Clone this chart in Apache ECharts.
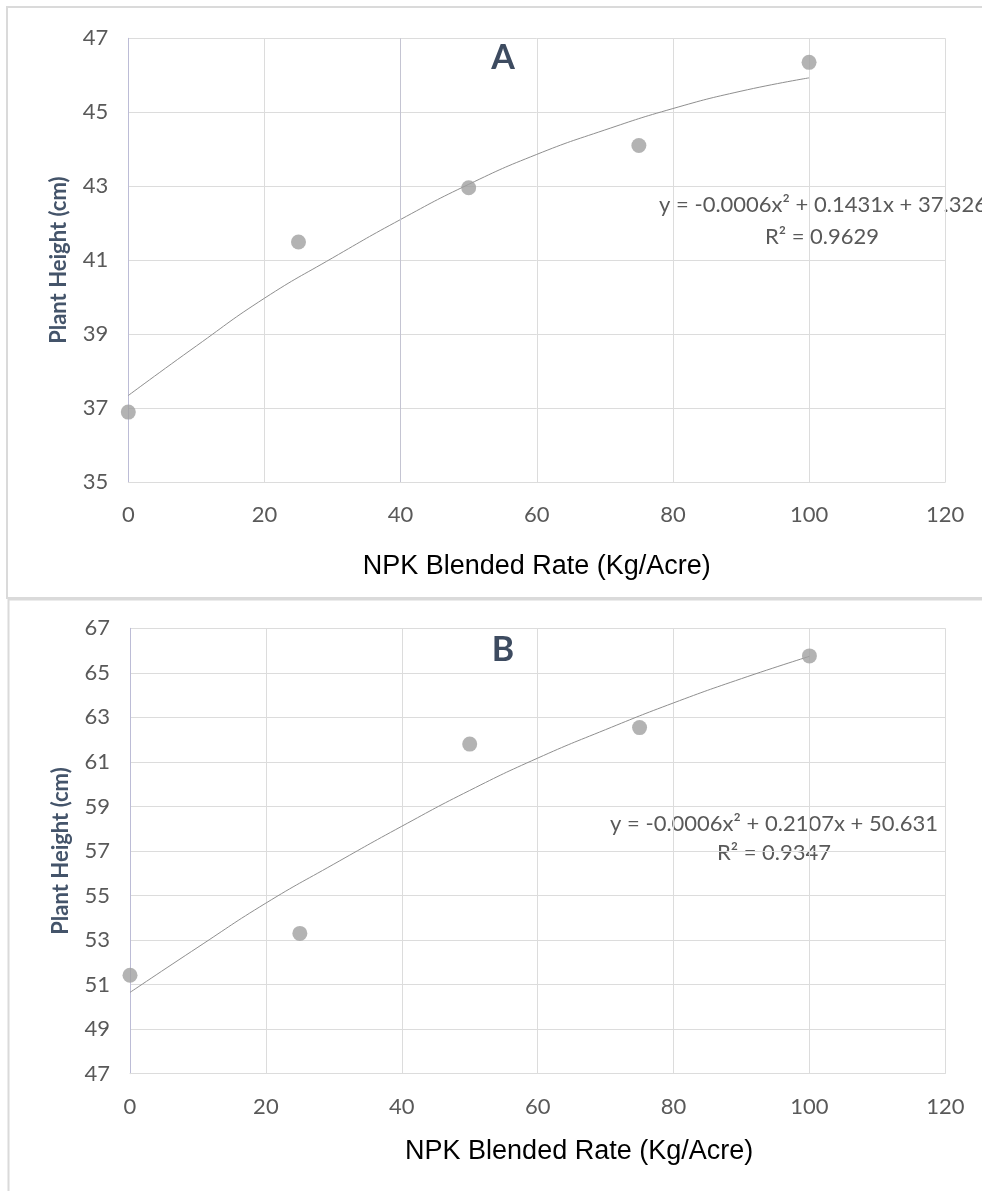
<!DOCTYPE html>
<html>
<head>
<meta charset="utf-8">
<script src="https://cdn.jsdelivr.net/npm/echarts@6/dist/echarts.min.js"></script>
<style>
  html, body { margin: 0; padding: 0; background: #ffffff; }
  #chart { width: 982px; height: 1191px; }
</style>
</head>
<body>
<div id="chart"></div>
<script>
// ---- data ----
const rates = [0, 25, 50, 75, 100];
const heightA = [36.89, 41.49, 42.96, 44.10, 46.35];
const heightB = [51.42, 53.30, 61.80, 62.54, 65.76];

// trend lines as drawn in the picture (read at every 10 kg/acre)
const trendX = [0, 10, 20, 30, 40, 50, 60, 70, 80, 90, 100];
const trendA = [37.34, 38.68, 39.97, 41.06, 42.10, 43.05, 43.86, 44.52, 45.10, 45.57, 45.93];
const trendB = [50.65, 52.68, 54.66, 56.41, 58.11, 59.72, 61.17, 62.45, 63.65, 64.74, 65.74];

const xTicks = [0, 20, 40, 60, 80, 100, 120];
const yTicksA = [35, 37, 39, 41, 43, 45, 47];
const yTicksB = [47, 49, 51, 53, 55, 57, 59, 61, 63, 65, 67];

const panelTitles = ['A', 'B'];
const eqA = ['y = -0.0006x\u00B2 + 0.1431x + 37.326', 'R\u00B2 = 0.9629'];
const eqB = ['y = -0.0006x\u00B2 + 0.2107x + 50.631', 'R\u00B2 = 0.9347'];
const xName = 'NPK Blended Rate (Kg/Acre)';
const yName = 'Plant Height (cm)';

// ---- styling ----
const tickColor = '#595959';
const gridColor = '#dcdcdc';
const axisBlue = '#bcbcd6';
const dotColor = '#a0a0a0';
const lineColor = '#8f8f8f';
const titleColor = '#3d4b60';

function pairs(xs, ys) { return xs.map((x, i) => [x, ys[i]]); }

function xAxisCfg(gridIndex, gap, shift) {
  return {
    type: 'value', gridIndex: gridIndex,
    min: xTicks[0], max: xTicks[xTicks.length - 1], interval: xTicks[1] - xTicks[0],
    name: xName, nameLocation: 'middle', nameGap: gap,
    nameTextStyle: { fontFamily: 'Liberation Sans', fontSize: 27, color: '#000000', padding: [0, 0, 0, shift] },
    axisLine: { show: true, lineStyle: { color: gridColor, width: 1 } },
    axisTick: { show: false },
    axisLabel: { fontFamily: 'Lato', fontSize: 22, color: tickColor, margin: 22 },
    splitLine: { show: true, lineStyle: { color: gridColor, width: 1 } }
  };
}
function yAxisCfg(gridIndex, ticks) {
  return {
    type: 'value', gridIndex: gridIndex,
    min: ticks[0], max: ticks[ticks.length - 1],
    name: yName, nameLocation: 'middle', nameGap: 58,
    nameTextStyle: { fontFamily: 'Lato', fontWeight: 'bold', fontSize: 22, color: '#44546a' },
    axisLine: { show: true, lineStyle: { color: axisBlue, width: 1 } },
    axisTick: { show: false, customValues: ticks },
    axisLabel: { fontFamily: 'Lato', fontSize: 22, color: tickColor, margin: 20, customValues: ticks },
    splitLine: { show: true, lineStyle: { color: gridColor, width: 1 } }
  };
}

const chart = echarts.init(document.getElementById('chart'), null, { renderer: 'canvas' });

const option = {
  animation: false,
  backgroundColor: '#ffffff',
  grid: [
    { left: 128.3, top: 38.3, width: 816.9, height: 443.7, containLabel: false, outerBoundsMode: 'none' },
    { left: 130, top: 628.3, width: 815.3, height: 445.4, containLabel: false, outerBoundsMode: 'none' }
  ],
  xAxis: [xAxisCfg(0, 71, 0), xAxisCfg(1, 64, 83)],
  yAxis: [yAxisCfg(0, yTicksA), yAxisCfg(1, yTicksB)],
  series: [
    {
      type: 'line', xAxisIndex: 0, yAxisIndex: 0, data: pairs(trendX, trendA),
      smooth: true, showSymbol: false, silent: true,
      lineStyle: { color: lineColor, width: 1 }, z: 3
    },
    {
      type: 'scatter', xAxisIndex: 0, yAxisIndex: 0, data: pairs(rates, heightA),
      symbol: 'circle', symbolSize: 15, itemStyle: { color: dotColor }, z: 4,
      markLine: {
        silent: true, symbol: 'none', label: { show: false },
        lineStyle: { color: '#c4c4d2', type: 'solid', width: 1 },
        data: [{ xAxis: 40 }]
      }
    },
    {
      type: 'line', xAxisIndex: 1, yAxisIndex: 1, data: pairs(trendX, trendB),
      smooth: true, showSymbol: false, silent: true,
      lineStyle: { color: lineColor, width: 1 }, z: 3
    },
    {
      type: 'scatter', xAxisIndex: 1, yAxisIndex: 1, data: pairs(rates, heightB),
      symbol: 'circle', symbolSize: 15, itemStyle: { color: dotColor }, z: 4
    }
  ],
  graphic: [
    { type: 'rect', silent: true, shape: { x: 7, y: 7, width: 1000, height: 591 },
      style: { fill: null, stroke: '#dadada', lineWidth: 2 }, z: -1 },
    { type: 'rect', silent: true, shape: { x: 8.5, y: 599.5, width: 1000, height: 620 },
      style: { fill: null, stroke: '#dadada', lineWidth: 2 }, z: -1 },
    { type: 'text', x: 503, y: 58, silent: true,
      style: { text: panelTitles[0], align: 'center', verticalAlign: 'middle',
               font: 'bold 34px Lato', fill: titleColor } },
    { type: 'text', x: 503, y: 650, silent: true,
      style: { text: panelTitles[1], align: 'center', verticalAlign: 'middle',
               font: 'bold 34px Lato', fill: titleColor } },
    { type: 'text', x: 823, y: 205, silent: true,
      style: { text: eqA[0], align: 'center', verticalAlign: 'middle', font: '22px Lato', fill: tickColor } },
    { type: 'text', x: 822, y: 237, silent: true,
      style: { text: eqA[1], align: 'center', verticalAlign: 'middle', font: '22px Lato', fill: tickColor } },
    { type: 'text', x: 774, y: 824, silent: true,
      style: { text: eqB[0], align: 'center', verticalAlign: 'middle', font: '22px Lato', fill: tickColor } },
    { type: 'text', x: 774, y: 853, silent: true,
      style: { text: eqB[1], align: 'center', verticalAlign: 'middle', font: '22px Lato', fill: tickColor } }
  ]
};
chart.setOption(option);
</script>
</body>
</html>
